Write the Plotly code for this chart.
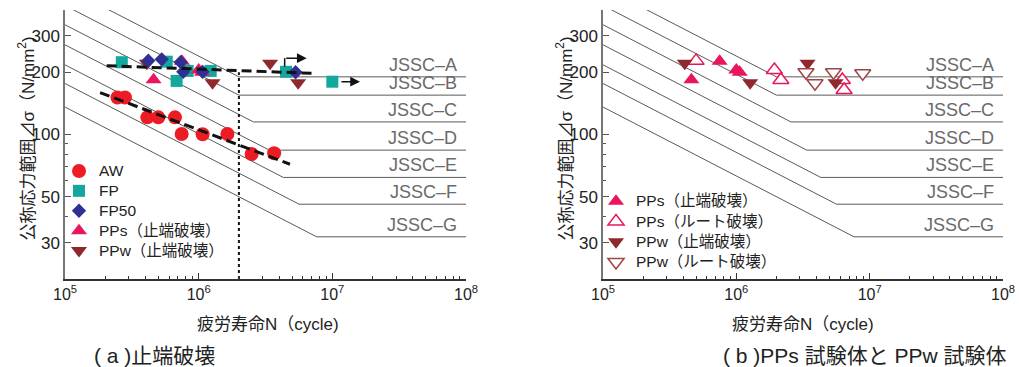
import numpy as np
import plotly.graph_objects as go

# ---------------- data ----------------
jssc_class = ["A", "B", "C", "D", "E", "F", "G"]
jssc_strength_2e6 = [190, 155, 125, 100, 80, 65, 50]   # N/mm2 at 2x10^6 cycles
jssc_cutoff = [190, 155, 115, 84, 62, 46, 32]          # constant-amplitude limit

aw_N = [2.47e5, 2.81e5, 4.13e5, 4.99e5, 6.65e5, 7.46e5, 1.07e6, 1.64e6, 2.49e6, 3.67e6]
aw_S = [151, 151, 121, 121, 121, 100.6, 100.3, 100.6, 80.5, 81.1]

fp_N = [2.66e5, 5.77e5, 6.84e5, 8.27e5, 1.23e6, 4.5e6, 1.0e7]
fp_S = [223.6, 225, 181.6, 203, 203, 201, 180]

fp50_N = [4.2e5, 5.29e5, 7.33e5, 7.67e5, 1.07e6, 5.31e6]
fp50_S = [227.5, 231, 223.6, 201, 201, 200]

pps_toe_N = [4.6e5, 7.5e5, 1.0e6, 1.06e6]
pps_toe_S = [184, 226, 205, 200]

ppw_toe_N = [4.1e5, 1.27e6, 3.42e6, 5.55e6]
ppw_toe_S = [221, 178, 221, 178]

pps_root_N = [4.99e5, 1.93e6, 2.16e6, 6.24e6, 6.43e6]
pps_root_S = [227, 205, 183.6, 183.6, 164]

ppw_root_N = [3.33e6, 3.89e6, 5.35e6, 8.87e6]
ppw_root_S = [200, 177, 200, 197.8]

# regression lines (end points)
aw_fit_N = [1.83e5, 4.82e6]
aw_fit_S = [159.4, 71.8]
fp_fit_N = [2.05e5, 7.0e6]
fp_fit_S = [215, 197.7]

# 2x10^6 reference (dotted)
ref_N = [2e6, 2e6]
ref_S = [20, 200]

# run-out arrows
runout_bend_N = [4.4e6, 4.4e6]
runout_bend_S = [213, 234]
runout_tip_N = [6.43e6, 1.61e7]
runout_tip_S = [234, 180]
runout_len_px = [22, 20]

x_tickvals = [1e5, 1e6, 1e7, 1e8]
x_ticktext = ["10<sup>5</sup>", "10<sup>6</sup>", "10<sup>7</sup>", "10<sup>8</sup>"]
y_tickvals = [30, 50, 100, 200, 300]
y_ticktext = ["30", "50", "100", "200", "300"]
y_minor = [40, 60, 70, 80, 90]
x_minor = [m * 10 ** e for e in (5, 6, 7) for m in range(2, 10)]

# ---------------- style ----------------
FONT = "Liberation Sans, Arial, Noto Sans CJK JP"
C_AW = "#ED1C24"
C_FP = "#13A89D"
C_FP50 = "#2E3192"
C_PPS = "#E8175D"
C_PPW = "#8E2A2E"
C_PPW_OPEN = "#9C4646"
C_JSSC = "#5a5a5a"

W, H = 1019, 367
L_DOM = [65 / W, 466 / W]
R_DOM = [603 / W, 1003 / W]
Y_DOM = [(H - 279) / H, (H - 10) / H]


def lg(name):
    return '<span style="font-size:15.5px">' + name + '</span>'


fig = go.Figure()


def jssc_lines(xa, ya):
    for cls, s2, sc in zip(jssc_class, jssc_strength_2e6, jssc_cutoff):
        n_corner = 2e6 * (s2 / sc) ** 3
        n0 = 1e4
        s0 = s2 * (2e6 / n0) ** (1 / 3)
        fig.add_trace(go.Scatter(
            x=[n0, n_corner, 1e8], y=[s0, sc, sc], mode="lines",
            line=dict(color=C_JSSC, width=1), xaxis=xa, yaxis=ya,
            showlegend=False, hoverinfo="skip"))


jssc_lines("x", "y")
jssc_lines("x2", "y2")

# ---- left plot markers ----
fig.add_trace(go.Scatter(x=aw_N, y=aw_S, mode="markers", name=lg("AW"),
                         marker=dict(symbol="circle", size=14, color=C_AW),
                         xaxis="x", yaxis="y", legend="legend", legendrank=1))
fig.add_trace(go.Scatter(x=fp_N, y=fp_S, mode="markers", name=lg("FP"),
                         marker=dict(symbol="square", size=12, color=C_FP),
                         xaxis="x", yaxis="y", legend="legend", legendrank=2))
fig.add_trace(go.Scatter(x=pps_toe_N, y=pps_toe_S, mode="markers", name=lg("PPs（止端破壊）"),
                         marker=dict(symbol="triangle-up", size=14, color=C_PPS),
                         xaxis="x", yaxis="y", legend="legend", legendrank=4))
fig.add_trace(go.Scatter(x=ppw_toe_N, y=ppw_toe_S, mode="markers", name=lg("PPw（止端破壊）"),
                         marker=dict(symbol="triangle-down", size=14, color=C_PPW),
                         xaxis="x", yaxis="y", legend="legend", legendrank=5))
fig.add_trace(go.Scatter(x=fp50_N, y=fp50_S, mode="markers", name=lg("FP50"),
                         marker=dict(symbol="diamond", size=11, color=C_FP50),
                         xaxis="x", yaxis="y", legend="legend", legendrank=3))

# regression & reference lines
fig.add_trace(go.Scatter(x=ref_N, y=ref_S, mode="lines",
                         line=dict(color="#111", width=2, dash="dot"),
                         xaxis="x", yaxis="y", showlegend=False, hoverinfo="skip"))
for fx, fy in ((aw_fit_N, aw_fit_S), (fp_fit_N, fp_fit_S)):
    fig.add_trace(go.Scatter(x=fx, y=fy, mode="lines",
                             line=dict(color="#111", width=3, dash="10px,5px"),
                             xaxis="x", yaxis="y", showlegend=False, hoverinfo="skip"))
fig.add_trace(go.Scatter(x=runout_bend_N, y=runout_bend_S, mode="lines",
                         line=dict(color="#111", width=1.5),
                         xaxis="x", yaxis="y", showlegend=False, hoverinfo="skip"))

# ---- right plot markers ----
fig.add_trace(go.Scatter(x=pps_toe_N, y=pps_toe_S, mode="markers", name=lg("PPs（止端破壊）"),
                         marker=dict(symbol="triangle-up", size=14, color=C_PPS),
                         xaxis="x2", yaxis="y2", legend="legend2", legendrank=1))
fig.add_trace(go.Scatter(x=pps_root_N, y=pps_root_S, mode="markers", name=lg("PPs（ルート破壊）"),
                         marker=dict(symbol="triangle-up", size=14, color="white",
                                     line=dict(color=C_PPS, width=1.5)),
                         xaxis="x2", yaxis="y2", legend="legend2", legendrank=2))
fig.add_trace(go.Scatter(x=ppw_toe_N, y=ppw_toe_S, mode="markers", name=lg("PPw（止端破壊）"),
                         marker=dict(symbol="triangle-down", size=14, color=C_PPW),
                         xaxis="x2", yaxis="y2", legend="legend2", legendrank=3))
fig.add_trace(go.Scatter(x=ppw_root_N, y=ppw_root_S, mode="markers", name=lg("PPw（ルート破壊）"),
                         marker=dict(symbol="triangle-down", size=14, color="white",
                                     line=dict(color=C_PPW_OPEN, width=1.5)),
                         xaxis="x2", yaxis="y2", legend="legend2", legendrank=4))

annotations = []
# run-out arrow heads
for tn, ts, lp in zip(runout_tip_N, runout_tip_S, runout_len_px):
    annotations.append(dict(x=np.log10(tn), y=np.log10(ts), xref="x", yref="y",
                            text="", showarrow=True, ax=-lp, ay=0, arrowhead=2,
                            arrowsize=1.3, arrowwidth=1.5, arrowcolor="#111", standoff=0))

# JSSC labels
for xr, yr, xd in (("x", "y", "x domain"), ("x2", "y2", "x2 domain")):
    for cls, sc in zip(jssc_class, jssc_cutoff):
        annotations.append(dict(x=0.982, xref=xd, y=np.log10(sc), yref=yr,
                                text="JSSC–" + cls, showarrow=False,
                                xanchor="right", yanchor="bottom", yshift=0,
                                font=dict(family=FONT, size=18, color="#6a6a6a")))

# axis titles and captions
for cx, xt_x, sub_x, sub_text in ((26.5, 268, 92, "( a )止端破壊"),
                                  (564.5, 803, 721, "( b )PPs 試験体と PPw 試験体")):
    annotations.append(dict(x=cx / W, y=(H - 139) / H, xref="paper", yref="paper",
                            text="公称応力範囲⊿σ（N/mm<sup>2</sup>)", textangle=-90,
                            showarrow=False, xanchor="center", yanchor="middle",
                            font=dict(family=FONT, size=17, color="#222")))
    annotations.append(dict(x=xt_x / W, y=(H - 324) / H, xref="paper", yref="paper",
                            text="疲労寿命N（cycle)", showarrow=False,
                            xanchor="center", yanchor="middle",
                            font=dict(family=FONT, size=17, color="#222")))
    annotations.append(dict(x=sub_x / W, y=(H - 355) / H, xref="paper", yref="paper",
                            text=sub_text, showarrow=False,
                            xanchor="left", yanchor="middle",
                            font=dict(family=FONT, size=21, color="#222")))

xaxis_common = dict(type="log", range=[5, 8], showgrid=False, zeroline=False,
                    automargin=False,
                    showline=True, linecolor="#333", linewidth=1.5,
                    ticks="inside", ticklen=6, tickcolor="#333",
                    tickvals=x_tickvals, ticktext=x_ticktext,
                    tickfont=dict(family=FONT, size=16, color="#222"),
                    minor=dict(tickvals=x_minor, ticks="inside", ticklen=3,
                               tickcolor="#333", showgrid=False))
yaxis_common = dict(type="log", range=[np.log10(20), np.log10(400)], domain=Y_DOM,
                    showgrid=False, zeroline=False, automargin=False,
                    showline=True, linecolor="#777", linewidth=1.5,
                    ticks="inside", ticklen=6, tickcolor="#555",
                    tickvals=y_tickvals, ticktext=y_ticktext,
                    tickfont=dict(family=FONT, size=17, color="#222"),
                    minor=dict(tickvals=y_minor, ticks="inside", ticklen=3,
                               tickcolor="#555", showgrid=False))

fig.update_layout(
    width=W, height=H, margin=dict(l=0, r=0, t=0, b=0, autoexpand=False),
    paper_bgcolor="white", plot_bgcolor="white",
    font=dict(family=FONT, size=15, color="#222"),
    xaxis=dict(xaxis_common, domain=L_DOM, anchor="y"),
    yaxis=dict(yaxis_common, anchor="x"),
    xaxis2=dict(xaxis_common, domain=R_DOM, anchor="y2"),
    yaxis2=dict(yaxis_common, anchor="x2"),
    legend=dict(x=59 / W, y=(H - 156) / H, xanchor="left", yanchor="top",
                bgcolor="rgba(0,0,0,0)", font=dict(family=FONT, size=13, color="#222"),
                tracegroupgap=0),
    legend2=dict(x=596 / W, y=(H - 186) / H, xanchor="left", yanchor="top",
                 bgcolor="rgba(0,0,0,0)", font=dict(family=FONT, size=13.3, color="#222"),
                 tracegroupgap=0),
    annotations=annotations,
)

fig.write_html("out.html", config={"displayModeBar": False},
               post_script="document.body.style.margin='0';document.body.style.overflow='hidden';")
